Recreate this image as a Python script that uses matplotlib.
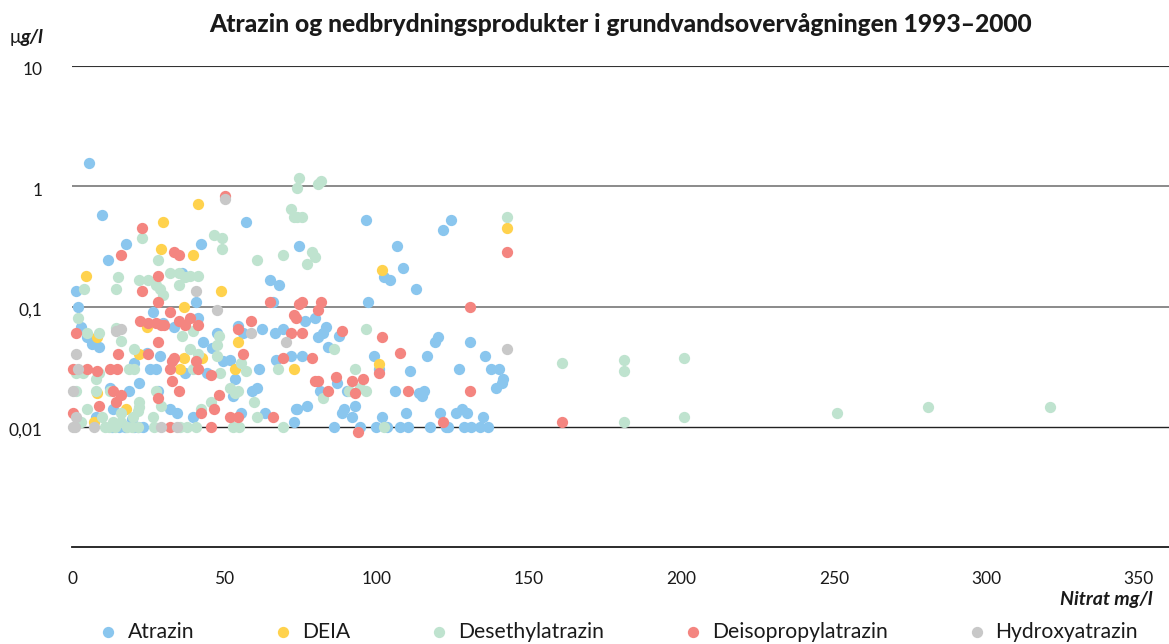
import matplotlib
matplotlib.use("Agg")
import matplotlib.pyplot as plt
from matplotlib.ticker import FixedLocator, NullLocator
from matplotlib.transforms import ScaledTranslation

plt.rcParams['font.family'] = ['Lato', 'DejaVu Sans']

# ==========================================
# data
# ==========================================
atrazin_x = [5.6, 9.8, 17.7, 11.8, 42.3, 57, 1.3, 65, 68, 74.5, 36, 40.6, 2, 3, 5, 6.5, 9, 26.5, 30, 33.5,
             41.4, 43, 47.5, 54.5, 56, 62.3, 66.6, 69.2, 66, 24.6, 29, 20.5, 25.6, 27.6, 37, 46, 49.5, 52,
             44.3, 61.3, 67, 72, 53.5, 60.6, 59, 52.7, 12.5, 18.7, 22, 28.2, 13.5, 32, 34.4, 39.7, 55.4,
             63.3, 73.4, 72.8, 8, 19.6, 23.3, 96.4, 124.3, 121.6, 106.8, 108.5, 102.4, 104.3, 112.8, 97,
             76.4, 79.7, 83.3, 80.7, 82.3, 87.5, 84, 75.4, 99, 100.7, 116.4, 120, 119, 130.5, 135.4, 111,
             127, 137.4, 140, 141.6, 141, 139, 106, 113.8, 114.8, 115.4, 81.3, 87, 90.2, 73.8, 77, 89.2,
             88.5, 92.8, 91.8, 101.6, 109.5, 120.7, 126, 127.9, 129.5, 134.8, 85.9, 94.5, 99.7, 103.3,
             107.6, 110.2, 117.4, 122.6, 123.4, 128.5, 131, 133.8, 136.4, 13, 15.5, 17.5, 20.5, 21.5]
atrazin_y = [1.55, 0.58, 0.33, 0.245, 0.33, 0.5, 0.135, 0.165, 0.15, 0.32, 0.19, 0.11, 0.1, 0.068, 0.056,
             0.049, 0.046, 0.09, 0.073, 0.068, 0.08, 0.051, 0.06, 0.069, 0.06, 0.065, 0.06, 0.065, 0.11,
             0.041, 0.039, 0.034, 0.03, 0.03, 0.028, 0.045, 0.035, 0.036, 0.028, 0.03, 0.036, 0.039, 0.025,
             0.021, 0.02, 0.018, 0.021, 0.02, 0.023, 0.02, 0.014, 0.014, 0.013, 0.012, 0.013, 0.013, 0.014,
             0.011, 0.012, 0.0115, 0.01, 0.52, 0.52, 0.43, 0.32, 0.21, 0.175, 0.165, 0.14, 0.11, 0.076,
             0.08, 0.068, 0.056, 0.06, 0.057, 0.046, 0.039, 0.039, 0.03, 0.039, 0.056, 0.051, 0.051, 0.039,
             0.029, 0.03, 0.03, 0.03, 0.025, 0.023, 0.021, 0.02, 0.019, 0.018, 0.02, 0.02, 0.023, 0.02,
             0.014, 0.015, 0.014, 0.013, 0.015, 0.012, 0.012, 0.013, 0.013, 0.013, 0.014, 0.013, 0.012,
             0.01, 0.01, 0.01, 0.01, 0.01, 0.01, 0.01, 0.01, 0.01, 0.01, 0.01, 0.01, 0.01, 0.01, 0.01, 0.01,
             0.01, 0.01]

deia_x = [41.3, 30, 29.2, 39.7, 4.6, 49, 36.8, 24.6, 54.5, 8.2, 22, 36.8, 42.6, 35.4, 53.5, 72.8, 8.2, 17.7,
          7.2, 101.6, 142.6, 100.7]
deia_y = [0.71, 0.5, 0.3, 0.27, 0.18, 0.135, 0.1, 0.068, 0.051, 0.056, 0.04, 0.037, 0.037, 0.03, 0.03, 0.03,
          0.019, 0.014, 0.011, 0.2, 0.45, 0.033]

desethyl_x = [23, 28.2, 46.6, 49.2, 49.2, 60.6, 69.2, 72, 72.8, 74, 73.8, 74.5, 4, 15, 14.4, 22, 25, 27.5, 29,
              30, 32, 35, 37, 38.7, 41.4, 35, 2, 4.8, 9, 14.4, 16, 20.4, 36, 39.6, 48.3, 47.5, 47.5, 38.7,
              41.4, 18.7, 20.4, 1.2, 3.7, 9, 8, 39.6, 48.6, 55.4, 57, 67.6, 1.2, 8, 12.5, 27.5, 52, 54.5,
              53.5, 59.7, 29.2, 4.8, 45.6, 42.4, 60.6, 26.5, 10, 16, 22, 22, 21.5, 20, 3, 16, 13.5, 10.8, 12,
              14, 18, 19.6, 21.6, 27, 37.6, 35.4, 40.6, 52.7, 54.8, 69.2, 142.6, 75.4, 80.6, 81.6, 78.7,
              79.7, 77, 96.4, 85.9, 92.8, 82.3, 91, 94.5, 96.4, 102.4, 160.8, 181, 181, 201, 181, 201, 251,
              281, 321]
desethyl_y = [0.37, 0.245, 0.39, 0.37, 0.3, 0.245, 0.27, 0.65, 0.56, 0.55, 0.96, 1.17, 0.14, 0.175, 0.14,
              0.165, 0.165, 0.15, 0.14, 0.125, 0.19, 0.19, 0.175, 0.18, 0.18, 0.15, 0.08, 0.06, 0.06, 0.066,
              0.052, 0.044, 0.057, 0.062, 0.057, 0.048, 0.039, 0.044, 0.04, 0.03, 0.03, 0.028, 0.028, 0.028,
              0.025, 0.03, 0.028, 0.034, 0.029, 0.03, 0.02, 0.02, 0.02, 0.02, 0.021, 0.02, 0.019, 0.016,
              0.015, 0.014, 0.016, 0.014, 0.012, 0.012, 0.012, 0.013, 0.016, 0.0145, 0.0135, 0.012, 0.011,
              0.011, 0.011, 0.01, 0.01, 0.01, 0.01, 0.01, 0.01, 0.01, 0.01, 0.01, 0.01, 0.01, 0.01, 0.01,
              0.55, 0.55, 1.05, 1.1, 0.285, 0.26, 0.225, 0.065, 0.044, 0.03, 0.0175, 0.02, 0.021, 0.02, 0.01,
              0.034, 0.036, 0.029, 0.037, 0.011, 0.012, 0.013, 0.0145, 0.0145]

deisopropyl_x = [50.2, 23, 16, 33.4, 35, 28.2, 23, 28.2, 65, 32, 72.8, 73.4, 22.2, 25, 27.5, 29.2, 30.2, 35,
                 37, 38.8, 41.4, 58.8, 54.5, 1.2, 72, 28.2, 15, 25, 56, 69.2, 33.4, 32.7, 40.6, 41.4, 32,
                 12.5, 14.7, 0.4, 4.8, 8.2, 32.8, 45.6, 35, 13.5, 16, 28.2, 48.3, 14.4, 9, 46.6, 42.4, 52,
                 54.5, 66, 0.4, 32, 45.6, 142.6, 74.5, 75.4, 81.6, 80.7, 75.4, 88.5, 101.6, 107.6, 78.7, 86.6,
                 95.4, 91.8, 79.7, 80.6, 84, 92.8, 100.7, 110.2, 130.5, 130.5, 121.6, 93.8, 160.8]
deisopropyl_y = [0.83, 0.45, 0.27, 0.285, 0.27, 0.18, 0.135, 0.11, 0.11, 0.09, 0.085, 0.08, 0.076, 0.073,
                 0.073, 0.07, 0.07, 0.076, 0.07, 0.08, 0.07, 0.076, 0.065, 0.06, 0.06, 0.051, 0.04, 0.04,
                 0.04, 0.037, 0.037, 0.035, 0.035, 0.03, 0.03, 0.03, 0.03, 0.03, 0.03, 0.029, 0.024, 0.027,
                 0.02, 0.02, 0.0185, 0.0175, 0.0185, 0.016, 0.015, 0.014, 0.013, 0.012, 0.012, 0.012, 0.013,
                 0.01, 0.01, 0.285, 0.105, 0.11, 0.11, 0.094, 0.06, 0.062, 0.056, 0.041, 0.037, 0.026, 0.025,
                 0.024, 0.024, 0.024, 0.02, 0.019, 0.028, 0.02, 0.02, 0.1, 0.011, 0.009, 0.011]

hydroxy_x = [50.2, 40.6, 47.5, 14.4, 16, 58.8, 70.2, 1.3, 2, 0.3, 1.2, 0.3, 1, 7.2, 29.2, 34.4, 142.6]
hydroxy_y = [0.79, 0.135, 0.094, 0.063, 0.065, 0.06, 0.051, 0.04, 0.03, 0.02, 0.012, 0.01, 0.01, 0.01, 0.01,
             0.01, 0.044]

series_names = ['Atrazin', 'DEIA', 'Desethylatrazin', 'Deisopropylatrazin', 'Hydroxyatrazin']
series_x = [atrazin_x, deia_x, desethyl_x, deisopropyl_x, hydroxy_x]
series_y = [atrazin_y, deia_y, desethyl_y, deisopropyl_y, hydroxy_y]
colors = ['#8AC6EE', '#FFD24D', '#BFE3CF', '#F48580', '#C8C8C8']

x_ticks = [0, 50, 100, 150, 200, 250, 300, 350]
y_ticks = [0.01, 0.1, 1, 10]
y_labels = ['0,01', '0,1', '1', '10']

# ==========================================
# plot
# ==========================================
W, H = 1169, 644
fig = plt.figure(figsize=(W / 100, H / 100), dpi=100)
ax = fig.add_axes([72 / W, 1 - 547 / H, (W - 72) / W, (547 - 66) / H])

for xs, ys, c, name in zip(series_x, series_y, colors, series_names):
    ax.scatter(xs, ys, s=66, color=c, linewidths=0, label=name, clip_on=False, zorder=3)

ax.set_yscale('log')
ax.set_xlim(0, 360)
ax.set_ylim(0.001, 10)

ax.yaxis.set_major_locator(FixedLocator(y_ticks))
ax.yaxis.set_minor_locator(NullLocator())
ax.set_yticklabels(y_labels)
ax.set_xticks(x_ticks)
ax.tick_params(axis='both', length=0, labelsize=12.5, colors='#1a1a1a')
ax.tick_params(axis='y', pad=21)
ax.tick_params(axis='x', pad=17)
shift = ScaledTranslation(0, -2 / 72, fig.dpi_scale_trans)
for t in ax.get_yticklabels():
    t.set_transform(t.get_transform() + shift)

for s in ['top', 'right', 'left']:
    ax.spines[s].set_visible(False)
ax.spines['bottom'].set_linewidth(1.3)
ax.spines['bottom'].set_color('#1a1a1a')

ax.axhline(10, color='#333333', lw=0.8, zorder=1)
ax.axhline(1, color='#777777', lw=1.2, zorder=1)
ax.axhline(0.1, color='#777777', lw=1.2, zorder=1)
ax.axhline(0.01, color='#222222', lw=1.0, zorder=1)

fig.text(621 / W, 1 - 25 / H, 'Atrazin og nedbrydningsprodukter i grundvandsovervågningen 1993–2000',
         ha='center', va='center', fontsize=17.7, fontweight='black', color='#1a1a1a')
fig.text(10 / W, 1 - 38 / H, 'μ', ha='left', va='center', fontsize=13.5, color='#1a1a1a')
fig.text(21 / W, 1 - 38 / H, 'g/l', ha='left', va='center', fontsize=14,
         fontweight='bold', fontstyle='italic', color='#1a1a1a')
fig.text(1153 / W, 1 - 600 / H, 'Nitrat mg/l', ha='right', va='center', fontsize=14,
         fontweight='bold', fontstyle='italic', color='#1a1a1a')

fig.legend(loc='center left', bbox_to_anchor=(100 / W, 1 - 632 / H), ncol=5, frameon=False,
           fontsize=15.2, scatterpoints=1, handlelength=0.8, handletextpad=0.5, columnspacing=3.81,
           borderaxespad=0, borderpad=0, labelcolor='#1a1a1a')

plt.savefig('out.png', dpi=100)
